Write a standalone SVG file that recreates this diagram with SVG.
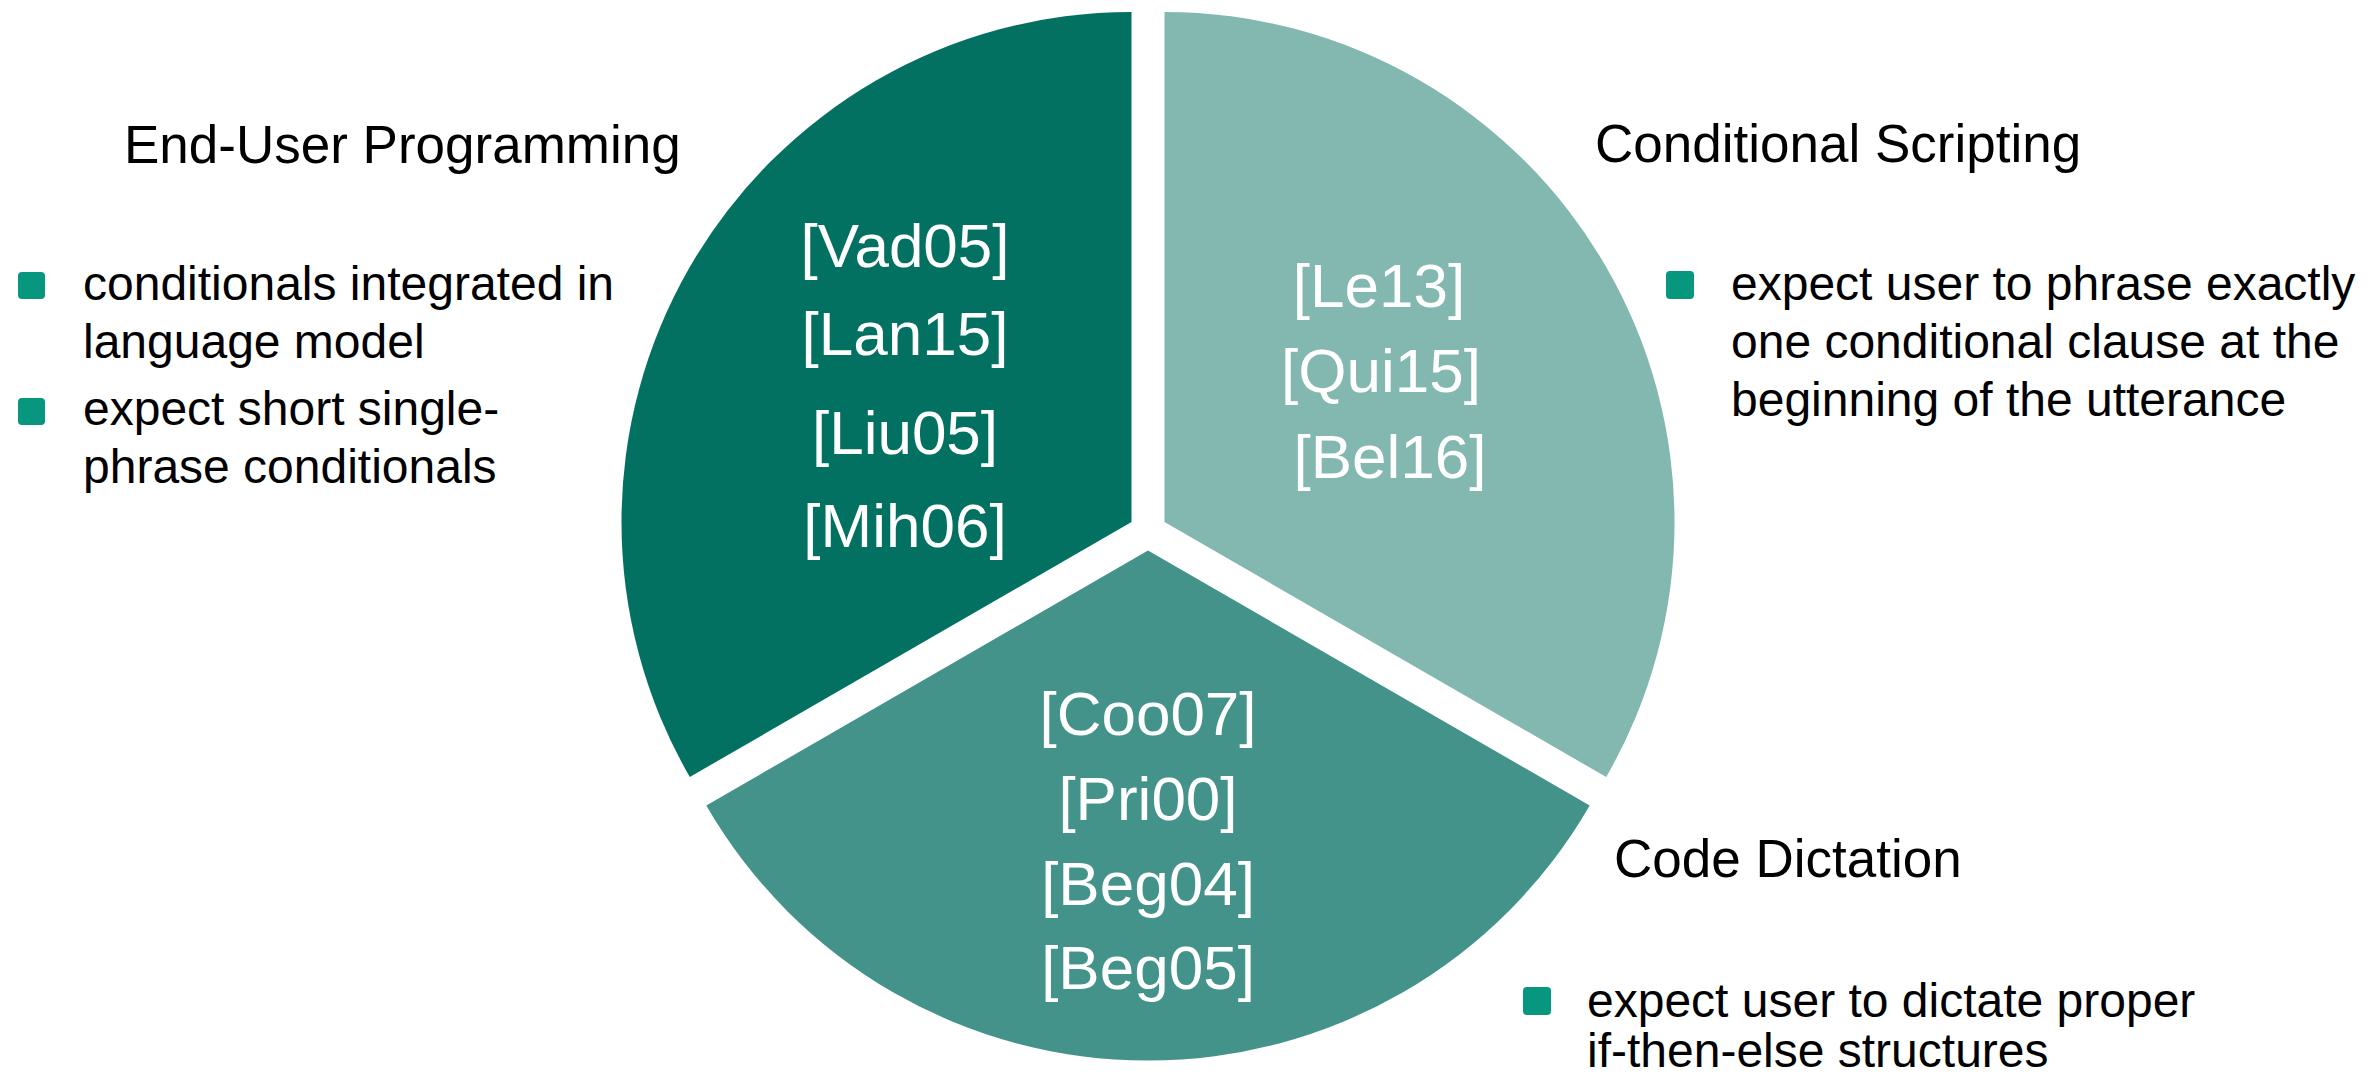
<svg xmlns="http://www.w3.org/2000/svg" width="2377" height="1079" viewBox="0 0 2377 1079">
  <style>
    .ref { font-family: "Liberation Sans", Arial, sans-serif; font-size: 62px; fill: #ffffff; text-anchor: middle; }
    .head { font-family: "Liberation Sans", Arial, sans-serif; font-size: 53px; fill: #000000; }
    .item { font-family: "Liberation Sans", Arial, sans-serif; font-size: 48px; fill: #000000; }
    .bullet { fill: #07967e; }
  </style>
  <rect width="2377" height="1079" fill="#ffffff"/>

  <!-- Exploded pie: three 120-degree slices, radius 510 -->
  <g id="slice-end-user">
    <path d="M 1131.5 522 L 689.8 777 A 510 510 0 0 1 1131.5 12 Z" fill="#037161"/>
    <text class="ref" x="905" y="267">[Vad05]</text>
    <text class="ref" x="905" y="355">[Lan15]</text>
    <text class="ref" x="905" y="454">[Liu05]</text>
    <text class="ref" x="905" y="547">[Mih06]</text>
  </g>

  <g id="slice-conditional-scripting">
    <path d="M 1164.5 522 L 1164.5 12 A 510 510 0 0 1 1606.2 777 Z" fill="#82b8af"/>
    <text class="ref" x="1379" y="307">[Le13]</text>
    <text class="ref" x="1381" y="392">[Qui15]</text>
    <text class="ref" x="1390" y="478">[Bel16]</text>
  </g>

  <g id="slice-code-dictation">
    <path d="M 1148 550.5 L 1589.7 805.5 A 510 510 0 0 1 706.3 805.5 Z" fill="#43938a"/>
    <text class="ref" x="1148" y="735">[Coo07]</text>
    <text class="ref" x="1148" y="820">[Pri00]</text>
    <text class="ref" x="1148" y="905">[Beg04]</text>
    <text class="ref" x="1148" y="989">[Beg05]</text>
  </g>

  <!-- Category captions with bullet notes -->
  <g id="label-end-user">
    <text class="head" x="124" y="163">End-User Programming</text>
    <rect class="bullet" x="18" y="272" width="27" height="27" rx="4"/>
    <text class="item" x="83" y="300">conditionals integrated in</text>
    <text class="item" x="83" y="358">language model</text>
    <rect class="bullet" x="18" y="398" width="27" height="27" rx="4"/>
    <text class="item" x="83" y="425">expect short single-</text>
    <text class="item" x="83" y="483">phrase conditionals</text>
  </g>

  <g id="label-conditional-scripting">
    <text class="head" x="1595" y="162">Conditional Scripting</text>
    <rect class="bullet" x="1666" y="271" width="28" height="28" rx="4"/>
    <text class="item" x="1731" y="300">expect user to phrase exactly</text>
    <text class="item" x="1731" y="358">one conditional clause at the</text>
    <text class="item" x="1731" y="416">beginning of the utterance</text>
  </g>

  <g id="label-code-dictation">
    <text class="head" x="1614" y="877">Code Dictation</text>
    <rect class="bullet" x="1523" y="987" width="28" height="28" rx="4"/>
    <text class="item" x="1587" y="1017">expect user to dictate proper</text>
    <text class="item" x="1587" y="1067">if-then-else structures</text>
  </g>

  <g id="connectors"/>
</svg>
